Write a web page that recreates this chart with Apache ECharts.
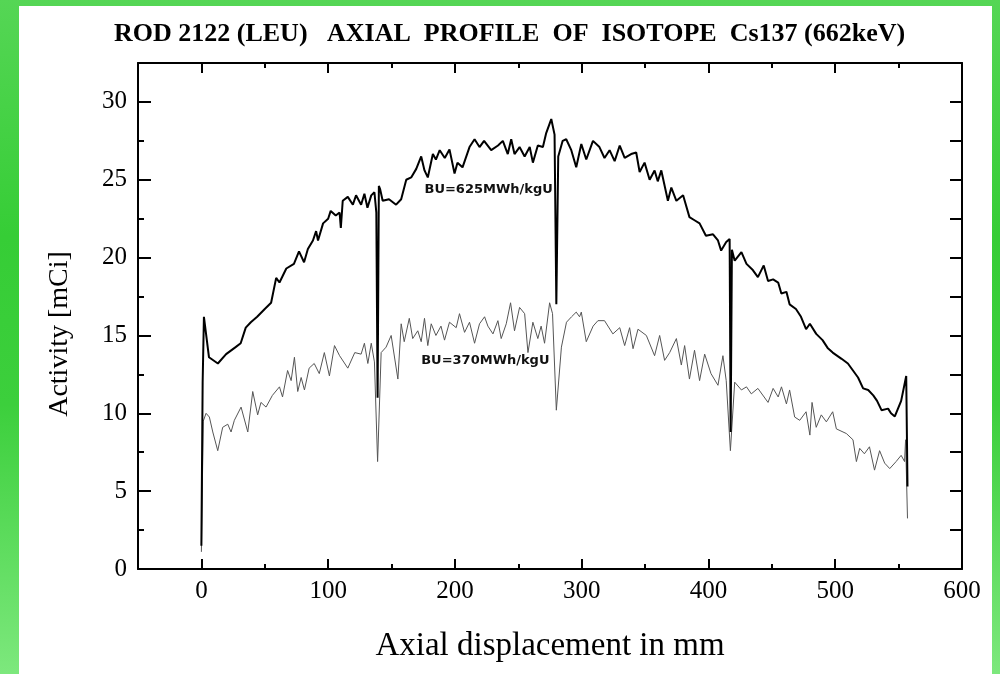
<!DOCTYPE html>
<html><head><meta charset="utf-8">
<script src="https://cdn.jsdelivr.net/npm/echarts@6/dist/echarts.min.js"></script>
<style>
html,body{margin:0;padding:0;width:1000px;height:674px;overflow:hidden;}
body{background:linear-gradient(to bottom,#55d655 0%,#36cd36 35%,#3ccf3c 60%,#7de87d 100%);position:relative;}
#paper{position:absolute;left:19px;top:6px;right:8px;bottom:0;background:#fff;}
#chart{position:absolute;left:0;top:0;width:1000px;height:674px;}
</style></head><body><div id="paper"></div><div id="chart"></div>
<script>
const titleText = 'ROD 2122 (LEU)   AXIAL  PROFILE  OF  ISOTOPE  Cs137 (662keV)';
const xName = 'Axial displacement in mm';
const yName = 'Activity [mCi]';
const xTickLabels = [0, 100, 200, 300, 400, 500, 600];
const xMinorTicks = [-50, 50, 150, 250, 350, 450, 550];
const yTickLabels = [0, 5, 10, 15, 20, 25, 30];
const yMinorTicks = [2.5, 7.5, 12.5, 17.5, 22.5, 27.5];
const seriesNames = ['BU=625MWh/kgU', 'BU=370MWh/kgU'];

const upperX = [0,1,2,6,13,19.5,27,31,35,39,44,50,55,59,61.6,67,73,77,81,84,88,90.5,92,96,100,102,106,109,110,111.5,115.5,119.5,122,126,128.6,131,134,136.5,138,139,140,141,143,148,153.6,157.6,161.6,165.5,169.5,173.4,176,178.6,182.6,185,188,192,195.7,199.7,202,206,211.5,215.5,219.4,223,228.6,234,237.8,241.7,244.4,247,251,255,259,261.5,265.4,269.4,272,276,278.6,280,281.5,285,287.8,291.8,295.7,299.7,303.6,308.9,314,318,322,326,330,333.9,339,343,345.7,349.6,353.6,357.5,360,362.8,368,370.7,374.7,380,385,389,393,398,403.6,407.5,410,414,416.7,417.5,418.5,420.7,426,430,435,439,443.6,447,451,455,457.5,461.5,464,469,473,477,480,485,490,494,498,505,510,514,518,522,526,530,533,536.5,541.7,544,547,552,556,557];
const upperY = [1.5,12,16.2,13.6,13.2,13.8,14.25,14.5,15.5,15.85,16.2,16.7,17.1,18.7,18.4,19.3,19.6,20.4,19.7,20.55,21.1,21.7,21.1,22.2,22.5,23.0,22.7,22.9,21.9,23.65,23.9,23.4,24.0,23.4,24.1,23.2,24.0,24.2,22.9,11.0,24.6,24.4,23.65,23.75,23.4,23.75,25.0,25.15,25.7,26.5,25.6,25.15,26.65,26.3,26.9,26.4,26.95,25.4,26.1,25.8,27.1,27.6,27.1,27.5,26.9,27.2,27.5,26.65,27.6,26.65,27.1,26.5,27.1,26.1,27.2,27.1,28.0,28.9,27.9,17.0,26.5,27.5,27.6,26.9,25.8,27.3,26.3,27.5,27.1,26.4,26.9,26.2,27.2,26.4,26.65,26.75,25.5,26.1,25.0,25.6,24.9,25.6,23.65,24.5,23.65,24.0,22.6,22.4,22.2,21.4,21.5,21.1,20.45,21.0,21.2,8.8,20.5,19.8,20.35,19.6,19.2,18.75,19.5,18.5,18.6,18.4,17.7,17.8,17.0,16.7,16.2,15.4,15.75,15.1,14.7,14.2,13.9,13.5,13.2,12.75,12.3,11.6,11.5,11.15,10.8,10.2,10.3,10.0,9.8,10.8,12.4,5.3];

const lowerX = [0,1.5,3.7,6.3,9,12.9,16.8,20.8,23.4,26,31.3,36.6,40.5,44.4,47,51,56,61.6,64,68,70.8,73.4,76,78.7,81.3,85,89,93,97,101,105,109,115.5,121,126,128.6,131.3,134,136.5,139,141.8,145.7,149.7,155,157.6,160,164,166.7,170.7,173.4,176,178.6,181.3,185,189,191.8,195.7,201,203.6,207.6,211.5,215.5,219.4,223.4,226,230,233.9,236.5,240.5,243.9,247,251,255,257.6,261.5,265.4,268,270.7,274.7,277,280,284,288,292,295.7,298.3,299.7,303.6,309,312.8,318,324.6,330,333.9,337.8,340.5,344.4,351,357.5,361.5,365.4,369.4,374.7,378.6,381.2,385,389,393,397,402,407.5,411.4,414,417.3,420.7,426,430,433.8,439,447,451,455,457.6,461.5,464,468,472,477,480,481.7,485,489,493,498,500.9,508.8,514,516.7,519.3,523,527,531,535,539,543,548,552,554.7,555.5,557];
const lowerY = [1.1,9.5,10.0,9.76,8.8,7.6,9.1,9.3,8.8,9.55,10.4,8.8,11.4,9.9,10.7,10.4,11.15,11.7,11.05,12.75,12.1,13.6,11.4,12.3,11.5,12.9,13.2,12.55,13.9,12.4,14.35,13.7,12.9,13.9,13.8,14.5,13.2,14.5,13.3,6.9,13.9,14.25,15.0,12.2,15.75,14.6,16.1,14.8,15.3,14.6,16.1,14.35,15.75,15.0,15.6,14.7,15.85,15.5,16.4,15.2,15.85,14.5,15.75,16.2,15.6,15.1,15.95,14.8,15.75,17.1,15.3,16.8,16.4,13.9,15.85,14.8,15.6,14.5,17.1,16.4,10.2,14.25,15.85,16.2,16.5,16.2,16.5,14.6,15.6,15.95,15.95,15.1,15.5,14.35,15.5,14.15,15.4,15.0,13.7,15.0,13.4,13.9,14.8,13.1,14.35,12.2,14.05,12.1,13.8,12.55,11.8,13.7,12.1,7.6,12.0,11.5,11.7,11.25,11.6,10.7,11.6,11.05,11.7,10.6,11.5,9.76,9.55,10.1,8.6,10.7,9.1,9.9,9.45,10.1,9.0,8.7,8.3,6.9,7.75,7.4,7.85,6.35,7.6,6.8,6.45,6.9,7.3,6.9,8.3,3.25];

// annotation anchor (left edge, vertical centre) in data units
const labelX = [176, 173.4];
const labelY = [24.36, 13.4];

const zip = (xs, ys) => xs.map((x, i) => [x, ys[i]]);
const serif = 'Liberation Serif';
const X_MIN = -50, X_MAX = 600, Y_MIN = 0, Y_MAX = 32.5;
const black = '#000';

function xAx(pos, ticks, len, showLine, labels, extra) {
  return Object.assign({
    type: 'value', position: pos, min: X_MIN, max: X_MAX, gridIndex: 0,
    axisLine: { show: showLine, onZero: false, lineStyle: { color: black, width: 2 } },
    axisTick: { show: true, inside: true, length: len, customValues: ticks, lineStyle: { color: black, width: 2 } },
    axisLabel: labels ? { show: true, customValues: labels, margin: 10, fontFamily: serif, fontSize: 25, color: black } : { show: false },
    splitLine: { show: false }
  }, extra || {});
}
function yAx(pos, ticks, len, showLine, labels, extra) {
  return Object.assign({
    type: 'value', position: pos, min: Y_MIN, max: Y_MAX, gridIndex: 0,
    axisLine: { show: showLine, onZero: false, lineStyle: { color: black, width: 2 } },
    axisTick: { show: true, inside: true, length: len, customValues: ticks, lineStyle: { color: black, width: 2 } },
    axisLabel: labels ? { show: true, customValues: labels, margin: 11, fontFamily: serif, fontSize: 25, color: black } : { show: false },
    splitLine: { show: false }
  }, extra || {});
}

const chart = echarts.init(document.getElementById('chart'), null, { renderer: 'canvas' });
chart.setOption({
  animation: false,
  backgroundColor: 'transparent',
  title: {
    text: titleText, left: 109, top: 16,
    textStyle: { fontFamily: serif, fontWeight: 'bold', fontSize: 26, color: black }
  },
  grid: { left: 138, right: 38, top: 63, bottom: 105, containLabel: false },
  xAxis: [
    xAx('bottom', xTickLabels, 10, true, xTickLabels, {
      name: xName, nameLocation: 'middle', nameGap: 61,
      nameTextStyle: { fontFamily: serif, fontSize: 33, color: black }
    }),
    xAx('bottom', xMinorTicks, 5, false, null),
    xAx('top', xTickLabels, 10, true, null),
    xAx('top', xMinorTicks, 5, false, null)
  ],
  yAxis: [
    yAx('left', yTickLabels, 13, true, yTickLabels, {
      name: yName, nameLocation: 'middle', nameGap: 64, nameRotate: 90,
      nameTextStyle: { fontFamily: serif, fontSize: 28, color: black, padding: [0, 36, 0, 0] }
    }),
    yAx('left', yMinorTicks, 6, false, null),
    yAx('right', yTickLabels.concat(yMinorTicks), 12, true, null)
  ],
  series: [
    {
      name: seriesNames[1], type: 'line', xAxisIndex: 0, yAxisIndex: 0,
      data: zip(lowerX, lowerY), showSymbol: false, symbol: 'none', z: 2,
      lineStyle: { color: '#555', width: 1 },
      markPoint: {
        symbol: 'circle', symbolSize: 0, silent: true,
        label: { show: true, position: 'right', distance: 0, fontFamily: 'DejaVu Sans', fontWeight: 'bold', fontSize: 13, color: '#111', formatter: seriesNames[1] },
        data: [{ coord: [labelX[1], labelY[1]] }]
      }
    },
    {
      name: seriesNames[0], type: 'line', xAxisIndex: 0, yAxisIndex: 0,
      data: zip(upperX, upperY), showSymbol: false, symbol: 'none', z: 3,
      lineStyle: { color: '#000', width: 2 },
      markPoint: {
        symbol: 'circle', symbolSize: 0, silent: true,
        label: { show: true, position: 'right', distance: 0, fontFamily: 'DejaVu Sans', fontWeight: 'bold', fontSize: 13, color: '#111', formatter: seriesNames[0] },
        data: [{ coord: [labelX[0], labelY[0]] }]
      }
    }
  ]
});
</script></body></html>
